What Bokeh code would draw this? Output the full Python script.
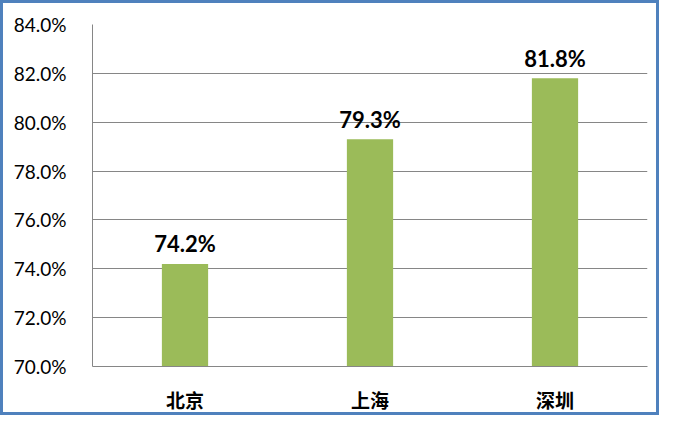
from bokeh.plotting import figure
from bokeh.models import ColumnDataSource, PrintfTickFormatter, FixedTicker, FactorRange
from bokeh.core.properties import value
from bokeh.embed import file_html
from bokeh.resources import INLINE

cities = ["北京", "上海", "深圳"]
rates = [74.2, 79.3, 81.8]
labels = ["74.2%", "79.3%", "81.8%"]
y_ticks = [70, 72, 74, 76, 78, 80, 82, 84]

src = ColumnDataSource(dict(x=cities, top=rates, label=labels))

p = figure(x_range=FactorRange(*cities, range_padding=0), y_range=(70, 84),
           width=659, height=415, output_backend="svg", toolbar_location=None,
           min_border_left=92, min_border_right=12, min_border_top=24, min_border_bottom=44)
p.styles = {"box-shadow": "inset 0 0 0 3px #4F81BD", "background-color": "white"}
p.outline_line_color = None
p.background_fill_color = "white"
p.border_fill_color = None

p.vbar(x="x", top="top", bottom=70, width=0.25, source=src, fill_color="#9BBB59", line_color=None)
p.text(x="x", y="top", text="label", source=src, text_align="center", text_baseline="alphabetic",
       y_offset=-20, text_font=value("Lato"), text_font_style="bold", text_font_size="22px",
       text_color="black")

p.yaxis.ticker = FixedTicker(ticks=y_ticks)
p.yaxis.formatter = PrintfTickFormatter(format="%.1f%%")
p.yaxis.major_label_text_font = "Lato"
p.yaxis.major_label_text_font_size = "19px"
p.yaxis.major_label_text_color = "black"
p.yaxis.major_tick_line_color = None
p.yaxis.minor_tick_line_color = None
p.yaxis.axis_line_color = "#868686"
p.yaxis.major_label_standoff = 20

p.xaxis.major_label_text_font = "Noto Sans CJK SC"
p.xaxis.major_label_text_font_size = "19px"
p.xaxis.major_label_text_font_style = "bold"
p.xaxis.major_label_text_color = "black"
p.xaxis.major_tick_line_color = None
p.xaxis.axis_line_color = "#868686"
p.xaxis.major_label_standoff = 13

p.xgrid.grid_line_color = None
p.ygrid.grid_line_color = "#868686"

open("out.html", "w").write(file_html(p, INLINE))
